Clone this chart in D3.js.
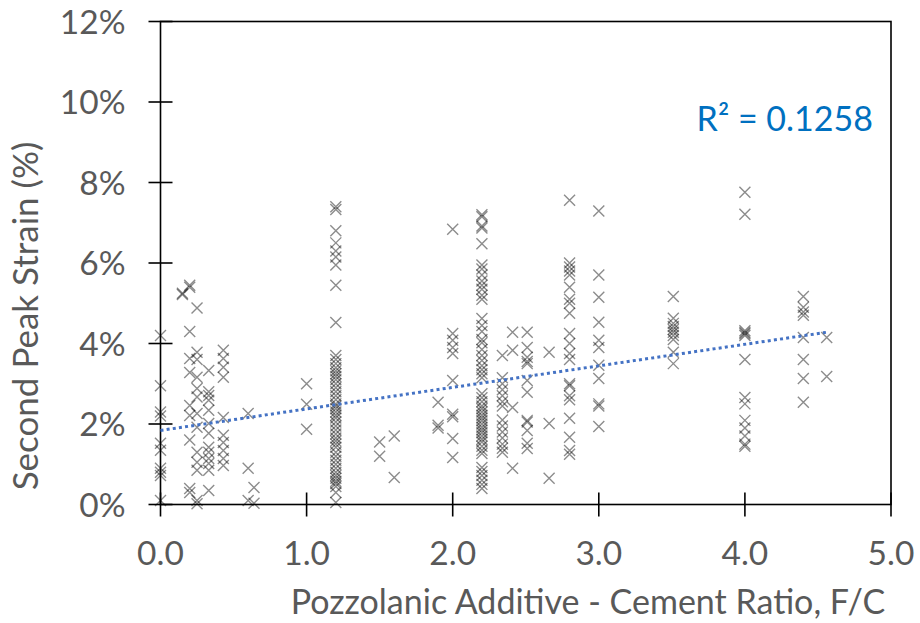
<!DOCTYPE html>
<html>
<head>
<meta charset="utf-8">
<script src="https://cdn.jsdelivr.net/npm/d3@7"></script>
<style>
  body { margin: 0; background: #fff; }
  text { font-family: Lato, "Open Sans", sans-serif; fill: #595959; }
</style>
</head>
<body>
<div id="chart"></div>
<script>
var svgWidth = 920;
var svgHeight = 623;

var margin = { top: 21.5, right: 29, bottom: 118.5, left: 160.5 };
var width = svgWidth - margin.left - margin.right;
var height = svgHeight - margin.top - margin.bottom;

// F/C ratio of each column of points
var fcRatios = [0.0, 0.15, 0.2, 0.25, 0.33, 0.43, 0.6, 0.64, 1.0, 1.2, 1.5, 1.6, 1.9, 2.0,
  2.2, 2.34, 2.41, 2.51, 2.66, 2.8, 3.0, 3.51, 4.0, 4.4, 4.56];

// second peak strain (%) measured at each ratio
var strains = [
  [4.2, 2.95, 2.3, 2.2, 1.52, 1.35, 0.9, 0.8, 0.72, 0.1],
  [5.22, 5.25],
  [5.4, 5.45, 4.3, 3.63, 3.28, 2.46, 2.21, 1.6, 0.4, 0.3],
  [4.88, 3.78, 3.6, 3.16, 2.88, 2.67, 2.26, 1.92, 1.3, 1.05, 0.85, 0.1, 0.02],
  [3.33, 2.8, 2.71, 2.59, 2.34, 2.01, 1.77, 1.42, 1.3, 1.14, 1.02, 0.85, 0.35],
  [3.83, 3.63, 3.41, 3.16, 2.16, 1.72, 1.54, 1.34, 1.14, 0.97],
  [2.26, 0.9, 0.1],
  [0.42, 0.03],
  [3.0, 2.49, 1.87],
  [7.4, 7.33, 6.8, 6.5, 6.3, 6.15, 5.95, 5.45, 4.52, 3.7, 3.6, 3.5, 3.4, 3.32, 3.25, 3.18, 3.1,
    3.0, 2.9, 2.8, 2.7, 2.6, 2.5, 2.45, 2.38, 2.3, 2.22, 2.15, 2.05, 1.95, 1.85, 1.75, 1.65,
    1.58, 1.5, 1.42, 1.3, 1.2, 1.1, 1.0, 0.9, 0.8, 0.72, 0.65, 0.58, 0.52, 0.45, 0.3, 0.05],
  [1.55, 1.2],
  [1.7, 0.67],
  [2.54, 1.97, 1.9],
  [6.84, 4.25, 4.08, 3.9, 3.75, 3.08, 2.24, 2.18, 1.64, 1.17],
  [7.2, 7.15, 6.92, 6.87, 6.48, 5.95, 5.85, 5.7, 5.55, 5.45, 5.35, 5.2, 5.1, 4.62, 4.45, 4.3,
    4.1, 4.02, 3.85, 3.7, 3.58, 3.45, 3.35, 3.25, 3.15, 2.75, 2.65, 2.55, 2.45, 2.38, 2.3, 2.22,
    2.15, 2.08, 2.0, 1.92, 1.85, 1.78, 1.7, 1.62, 1.55, 1.45, 1.35, 1.27, 0.92, 0.82, 0.72,
    0.6, 0.5, 0.4],
  [3.7, 3.15, 3.0, 2.85, 2.7, 2.55, 2.45, 2.1, 1.95, 1.8, 1.65, 1.5, 1.4, 1.3],
  [4.28, 3.83, 2.41, 0.9],
  [4.28, 3.9, 3.66, 3.55, 3.5, 3.08, 2.79, 2.09, 2.05, 1.84, 1.52, 1.39],
  [3.78, 2.01, 0.65],
  [7.56, 6.0, 5.9, 5.8, 5.7, 5.4, 5.1, 5.0, 4.75, 4.25, 4.0, 3.75, 3.6, 3.0, 2.95, 2.7, 2.6,
    2.14, 1.67, 1.34, 1.25],
  [7.29, 5.7, 5.15, 4.53, 4.08, 3.9, 3.46, 3.13, 2.5, 2.45, 1.94],
  [5.17, 4.63, 4.5, 4.42, 4.35, 4.28, 4.2, 4.1, 3.78, 3.5],
  [7.76, 7.21, 4.32, 4.28, 4.24, 4.2, 3.6, 2.66, 2.5, 2.09, 1.9, 1.7, 1.5, 1.45],
  [5.17, 4.9, 4.78, 4.7, 4.15, 3.6, 3.13, 2.54],
  [4.15, 3.18]
];

var xTicks = [0, 1, 2, 3, 4, 5];
var yTicks = [0, 2, 4, 6, 8, 10, 12];

// linear trendline
var trendIntercept = 1.84;
var trendSlope = 0.535;
var rSquaredLabel = "R\u00b2 = 0.1258";

var points = [];
fcRatios.forEach(function(fc, i) {
  strains[i].forEach(function(s) { points.push({ fc: fc, strain: s }); });
});

var svg = d3.select("#chart")
  .append("svg")
  .attr("width", svgWidth)
  .attr("height", svgHeight);

var chartGroup = svg.append("g")
  .attr("transform", `translate(${margin.left}, ${margin.top})`);

var xScale = d3.scaleLinear().domain([0, 5]).range([0, width]);
var yScale = d3.scaleLinear().domain([0, 12]).range([height, 0]);

// plot frame
chartGroup.append("rect")
  .attr("width", width)
  .attr("height", height)
  .attr("fill", "none")
  .attr("stroke", "#000")
  .attr("stroke-width", 1.6);

// cross ticks on both axes
chartGroup.selectAll(".ytick")
  .data(yTicks)
  .enter()
  .append("line")
  .attr("x1", -12)
  .attr("x2", 12)
  .attr("y1", d => yScale(d))
  .attr("y2", d => yScale(d))
  .attr("stroke", "#000")
  .attr("stroke-width", 1.6);

chartGroup.selectAll(".xtick")
  .data(xTicks)
  .enter()
  .append("line")
  .attr("x1", d => xScale(d))
  .attr("x2", d => xScale(d))
  .attr("y1", height - 12)
  .attr("y2", height + 12)
  .attr("stroke", "#000")
  .attr("stroke-width", 1.6);

chartGroup.selectAll(".ylabel")
  .data(yTicks)
  .enter()
  .append("text")
  .attr("x", -35)
  .attr("y", d => yScale(d))
  .attr("dy", "0.36em")
  .attr("text-anchor", "end")
  .style("font-size", "33.5px")
  .text(d => d + "%");

chartGroup.selectAll(".xlabel")
  .data(xTicks)
  .enter()
  .append("text")
  .attr("x", d => xScale(d))
  .attr("y", height + 48)
  .attr("dy", "0.36em")
  .attr("text-anchor", "middle")
  .style("font-size", "33.5px")
  .text(d => d3.format(".1f")(d));

// markers
var size = 5.5;
var markers = chartGroup.append("g")
  .attr("stroke", "#000")
  .attr("stroke-opacity", 0.45)
  .attr("stroke-width", 1.4)
  .attr("fill", "none");

markers.selectAll("path")
  .data(points)
  .enter()
  .append("path")
  .attr("d", function(d) {
    var x = xScale(d.fc), y = yScale(d.strain);
    return `M${x - size},${y - size}L${x + size},${y + size}M${x - size},${y + size}L${x + size},${y - size}`;
  });

// trendline
var fcMax = d3.max(fcRatios);
chartGroup.append("line")
  .attr("x1", xScale(0))
  .attr("y1", yScale(trendIntercept))
  .attr("x2", xScale(fcMax))
  .attr("y2", yScale(trendIntercept + trendSlope * fcMax))
  .attr("stroke", "#4472C4")
  .attr("stroke-width", 3)
  .attr("stroke-dasharray", "3,3.2");

chartGroup.append("text")
  .attr("x", 873 - margin.left)
  .attr("y", 131 - margin.top)
  .attr("text-anchor", "end")
  .style("font-size", "34px")
  .style("fill", "#0070C0")
  .text(rSquaredLabel);

// axis titles
svg.append("text")
  .attr("x", 588)
  .attr("y", 614)
  .attr("text-anchor", "middle")
  .style("font-size", "34px")
  .text("Pozzolanic Additive - Cement Ratio, F/C");

svg.append("text")
  .attr("transform", "translate(38, 316) rotate(-90)")
  .attr("text-anchor", "middle")
  .style("font-size", "35px")
  .text("Second Peak Strain (%)");
</script>
</body>
</html>
